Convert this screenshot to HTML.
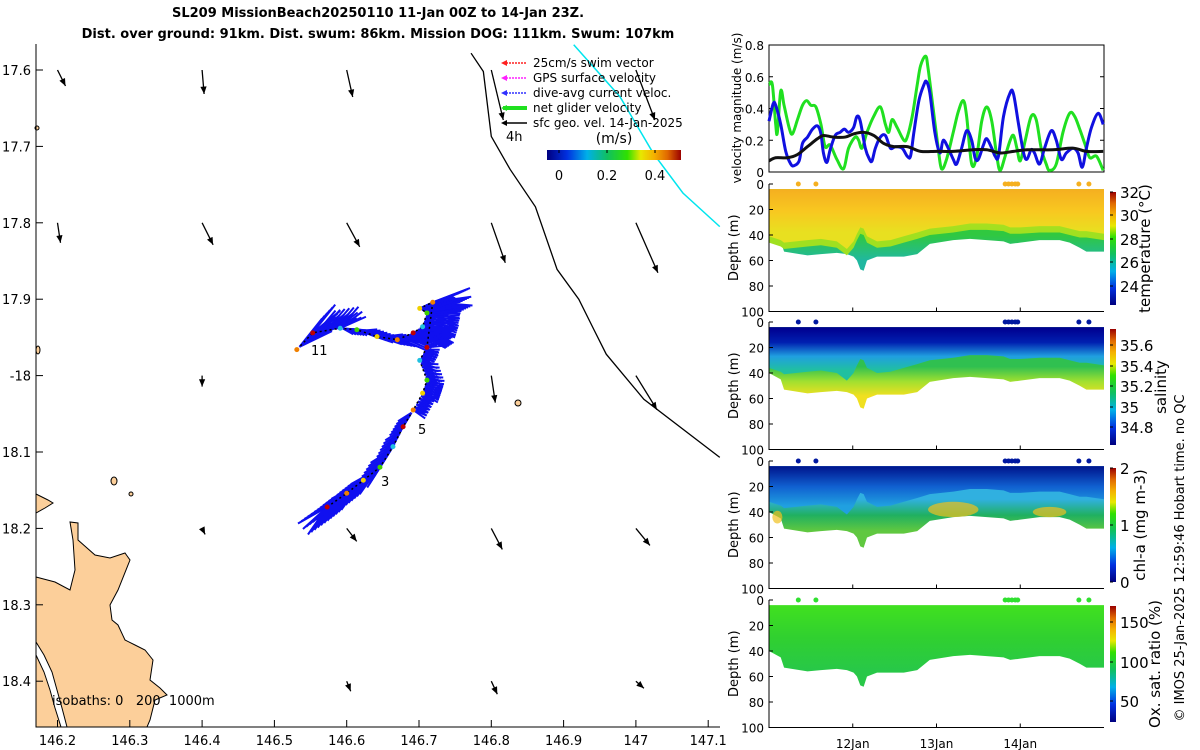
<!DOCTYPE html>
<html><head><meta charset="utf-8"><style>
html,body{margin:0;padding:0;background:#fff;}
svg{display:block;font-family:"DejaVu Sans","Liberation Sans",sans-serif;}
</style></head><body>
<svg id="fig" width="1200" height="750" viewBox="0 0 1200 750">
<defs>
<linearGradient id="jetH" x1="0" y1="0" x2="1" y2="0">
<stop offset="0" stop-color="#00007f"/><stop offset="0.15" stop-color="#0030e0"/><stop offset="0.3" stop-color="#00b0e8"/><stop offset="0.45" stop-color="#10c060"/><stop offset="0.6" stop-color="#30e000"/><stop offset="0.7" stop-color="#e8e800"/><stop offset="0.8" stop-color="#f5b000"/><stop offset="0.9" stop-color="#e06800"/><stop offset="1" stop-color="#9a0000"/></linearGradient>
<linearGradient id="jetV" x1="0" y1="1" x2="0" y2="0">
<stop offset="0" stop-color="#00007f"/><stop offset="0.15" stop-color="#0030e0"/><stop offset="0.3" stop-color="#00b0e8"/><stop offset="0.45" stop-color="#10c060"/><stop offset="0.6" stop-color="#30e000"/><stop offset="0.7" stop-color="#e8e800"/><stop offset="0.8" stop-color="#f5b000"/><stop offset="0.9" stop-color="#e06800"/><stop offset="1" stop-color="#9a0000"/></linearGradient>
</defs>
<g font-weight="bold" font-size="13" text-anchor="middle">
<text x="378" y="17">SL209 MissionBeach20250110 11-Jan 00Z to 14-Jan 23Z.</text>
<text x="378" y="38">Dist. over ground: 91km. Dist. swum: 86km. Mission DOG: 111km. Swum: 107km</text>
</g>
<g id="map"></g>
<g id="vel"></g>
<g id="depth"></g>
<text transform="translate(1184,558) rotate(-90)" text-anchor="middle" font-size="13">© IMOS 25-Jan-2025 12:59:46 Hobart time. no QC</text>
</svg>
<script>
// ---------- data ----------
const lonTicks=[146.2,146.3,146.4,146.5,146.6,146.7,146.8,146.9,147,147.1];
const lonLabels=["146.2","146.3","146.4","146.5","146.6","146.7","146.8","146.9","147","147.1"];
const latTicks=[17.6,17.7,17.8,17.9,18.0,18.1,18.2,18.3,18.4];
const latLabels=["17.6","17.7","17.8","17.9","-18","18.1","18.2","18.3","18.4"];
const arrowLon=[146.2,146.4,146.6,146.8,147.0, 146.2,146.4,146.6,146.8,147.0, 146.4,146.8,147.0, 146.4,146.6,146.8,147.0, 146.6,146.8,147.0];
const arrowLat=[17.6,17.6,17.6,17.6,17.6, 17.8,17.8,17.8,17.8,17.8, 18.0,18.0,18.0, 18.2,18.2,18.2,18.2, 18.4,18.4,18.4];
const arrowU=[0.08,0.02,0.06,0.12,0.19, 0.03,0.11,0.13,0.14,0.22, 0.0,0.04,0.21, 0.03,0.10,0.11,0.14, 0.04,0.06,0.08];
const arrowV=[0.16,0.24,0.27,0.50,0.50, 0.20,0.22,0.24,0.40,0.50, 0.11,0.27,0.34, 0.06,0.13,0.21,0.17, 0.10,0.13,0.07];
const trackLon=[146.573,146.600,146.623,146.646,146.664,146.678,146.692,146.705,146.711,146.701,146.711,146.719,146.701,146.711,146.705,146.692,146.670,146.642,146.614,146.591,146.553,146.531];
const trackLat=[18.172,18.154,18.137,18.120,18.093,18.067,18.045,18.023,18.006,17.980,17.963,17.904,17.912,17.918,17.936,17.944,17.953,17.949,17.940,17.938,17.944,17.966];
const swimU=[-0.22,-0.22,-0.2,-0.15,-0.12,-0.1,0.12,0.15,0.15,0.12,0.15,0.35,0.3,0.3,0.3,0.25,0.2,0.15,0.1,0.2,0.25,0.25];
const swimV=[0.2,0.2,0.18,0.15,0.12,0.1,0.05,0.05,0.04,0.03,-0.05,-0.05,-0.05,0.05,0.08,0.05,0.02,0.02,0.03,-0.15,-0.2,-0.2];
const coastLon=[146.772,146.789,146.800,146.826,146.861,146.891,146.921,146.942,146.959,147.011,147.116];
const coastLat=[17.578,17.602,17.687,17.730,17.779,17.861,17.900,17.940,17.972,18.031,18.107];
const cyanLon=[146.914,146.978,147.024,147.065,147.116];
const cyanLat=[17.567,17.635,17.709,17.761,17.805];
const velT_green=[0,.04,.08,.10,.14,.18,.24,.28,.34,.40,.45,.50,.56,.62,.67,.73,.81,.89,.95,1.03,1.07,1.11,1.17,1.25,1.33,1.39,1.43,1.47,1.53,1.61,1.65,1.71,1.77,1.81,1.87,1.90,1.96,2.02,2.06,2.12,2.20,2.26,2.32,2.36,2.42,2.48,2.54,2.60,2.66,2.72,2.76,2.82,2.88,2.92,2.96,3.00,3.06,3.13,3.19,3.25,3.31,3.35,3.43,3.51,3.59,3.65,3.71,3.77,3.83,3.91,3.99];
const velV_green=[.55,.55,.3,.25,.51,.42,.28,.24,.33,.42,.45,.42,.41,.3,.16,.17,.08,.02,.15,.22,.2,.15,.25,.35,.41,.3,.25,.33,.28,.2,.22,.35,.55,.67,.73,.65,.4,.15,.02,.08,.25,.38,.45,.35,.05,.1,.32,.41,.32,.1,.01,.1,.2,.23,.15,.07,.2,.35,.33,.15,.05,.01,.05,.25,.37,.35,.27,.18,.09,.1,.01];
const velT_blue=[0,.05,.08,.14,.20,.26,.30,.36,.40,.46,.52,.58,.62,.65,.69,.73,.79,.85,.90,.95,1.01,1.05,1.09,1.15,1.20,1.23,1.27,1.33,1.39,1.45,1.51,1.59,1.65,1.69,1.73,1.79,1.85,1.88,1.92,1.98,2.04,2.08,2.14,2.20,2.24,2.30,2.36,2.42,2.46,2.50,2.56,2.60,2.66,2.70,2.74,2.80,2.88,2.92,2.98,3.04,3.08,3.13,3.17,3.23,3.29,3.37,3.43,3.49,3.55,3.63,3.69,3.74,3.79,3.85,3.93,3.99];
const velV_blue=[.32,.43,.42,.3,.13,.05,.04,.07,.18,.22,.27,.29,.24,.12,.06,.14,.23,.25,.27,.25,.28,.35,.32,.15,.08,.07,.15,.22,.23,.15,.16,.15,.1,.1,.25,.45,.55,.57,.5,.25,.12,.2,.15,.08,.05,.15,.26,.2,.09,.08,.17,.21,.15,.1,.1,.35,.5,.49,.3,.12,.08,.14,.12,.05,.15,.26,.2,.08,.12,.15,.12,.03,.15,.28,.37,.3];
const velT_black=[0,.08,.22,.34,.46,.58,.65,.77,.91,1.01,1.13,1.25,1.37,1.49,1.65,1.81,2.00,2.20,2.44,2.60,2.76,2.92,3.08,3.39,3.63,3.79,3.99];
const velV_black=[.07,.09,.09,.11,.16,.21,.23,.22,.22,.24,.25,.23,.18,.16,.16,.13,.13,.13,.14,.14,.12,.13,.14,.14,.15,.13,.13];
const velTicks=[0,0.2,0.4,0.6,0.8];
const velTickLabels=["0","0.2","0.4","0.6","0.8"];
const colT=[0,.14,.18,.46,.62,.81,.93,1.01,1.05,1.09,1.13,1.17,1.29,1.45,1.61,1.77,1.92,2.20,2.40,2.60,2.80,2.88,3.00,3.23,3.47,3.59,3.71,3.79,4.0];
const bottomDepth=[40,45,53,56,55,54,55,57,60,67,68,60,57,57,57,55,47,44,43,44,45,47,46,44,44,46,50,53,53];
const mixedDepth=[40,43,45,43,42,44,50,44,38,33,34,40,44,43,40,37,34,32,30,30,31,33,33,32,32,34,36,36,38];
const surfT=[0.35,0.56,2.82,2.86,2.90,2.94,2.97,3.70,3.82];
const depthTicks=[0,20,40,60,80,100];
const dayTicks=[1,2,3];
const dayLabels=["12Jan","13Jan","14Jan"];
// ---------- helpers ----------
const NS="http://www.w3.org/2000/svg";
function mk(parent,tag,attrs,text){const e=document.createElementNS(NS,tag);for(const k in attrs)e.setAttribute(k,attrs[k]);if(text!==undefined)e.textContent=text;parent.appendChild(e);return e;}
function smooth(pts){let d="M"+pts[0][0]+","+pts[0][1];for(let i=0;i<pts.length-1;i++){const p0=pts[i-1]||pts[i],p1=pts[i],p2=pts[i+1],p3=pts[i+2]||p2;
 d+=` C${p1[0]+(p2[0]-p0[0])/6},${p1[1]+(p2[1]-p0[1])/6} ${p2[0]-(p3[0]-p1[0])/6},${p2[1]-(p3[1]-p1[1])/6} ${p2[0]},${p2[1]}`;}return d;}
const mx=lon=>57.5+(lon-146.2)*723, my=lat=>70+(lat-17.6)*764;
// ---------- map ----------
const map=document.getElementById('map');
let land=mk(map,'path',{d:"M36,577 L55,582 L70,590 L75,570 L73,540 L70,522 L78,523 L78,540 L95,555 L110,558 L125,553 L130,560 L118,590 L110,605 L112,620 L118,625 L125,640 L135,645 L145,650 L153,660 L150,680 L160,688 L167,695 L155,700 L150,720 L147,727 L36,727 Z",fill:"#fccf9a",stroke:"#000","stroke-width":1});

let ch=mk(map,'path',{d:"M36,642 L44,655 L52,672 L57,690 L62,708 L67,727 L61,727 L55,708 L50,690 L44,672 L36,655 Z",fill:"#fff",stroke:"#000","stroke-width":1});

let l2=mk(map,'path',{d:"M36,494 L48,500 L53,503 L45,508 L36,513 Z",fill:"#fccf9a",stroke:"#000","stroke-width":1});

[[114,481,3,4],[131,494,2,2],[518,403,3,3],[37,128,2,2],[38,350,2,4]].forEach(p=>{const e=mk(map,'ellipse',{cx:p[0],cy:p[1],rx:p[2],ry:p[3],fill:"#fccf9a",stroke:"#000"});});
let cl=mk(map,'polyline',{points:coastLon.map((v,i)=>mx(v)+","+my(coastLat[i])).join(" "),fill:"none",stroke:"#000","stroke-width":1.3});

let cy=mk(map,'polyline',{points:cyanLon.map((v,i)=>mx(v)+","+my(cyanLat[i])).join(" "),fill:"none",stroke:"#00e5ee","stroke-width":1.5});

for(let i=0;i<trackLon.length-1;i++){
 for(let k=0;k<6;k++){
  const f=k/6;const x=mx(trackLon[i]+(trackLon[i+1]-trackLon[i])*f), y=my(trackLat[i]+(trackLat[i+1]-trackLat[i])*f);
  for(let j=-1;j<=1;j++){
   const ln=mk(map,'line',{x1:x,y1:y,x2:x+swimU[i]*110+j*swimV[i]*25,y2:y+swimV[i]*110-j*swimU[i]*25,stroke:"#1010f0","stroke-width":2});
   
  }
 }
}
const tcols=["#c00000","#f08000","#f0d000","#40d000","#20c0e0"];
let tr=mk(map,'polyline',{points:trackLon.map((v,i)=>mx(v)+","+my(trackLat[i])).join(" "),fill:"none",stroke:"#000","stroke-width":1.5,"stroke-dasharray":"2,3"});

trackLon.forEach((v,i)=>{const d=mk(map,'circle',{cx:mx(v),cy:my(trackLat[i]),r:2.5,fill:tcols[i%5]});});
[["11",311,355],["5",418,434],["3",381,486]].forEach(t=>{const e=mk(map,'text',{x:t[1],y:t[2],"font-size":13},t[0]);});
arrowLon.forEach((v,i)=>{
 const x=mx(v),y=my(arrowLat[i]),x2=x+arrowU[i]*100,y2=y+arrowV[i]*100;
 const g=mk(map,'g',{});
 
 mk(g,'line',{x1:x,y1:y,x2:x2,y2:y2,stroke:"#000","stroke-width":1.3});
 const a=Math.atan2(y2-y,x2-x),L=8;
 mk(g,'path',{d:`M${x2},${y2} L${x2-L*Math.cos(a-0.4)},${y2-L*Math.sin(a-0.4)} L${x2-L*Math.cos(a+0.4)},${y2-L*Math.sin(a+0.4)} Z`,fill:"#000"});
});
let ax=mk(map,'path',{d:"M36,44 L36,727 L720,727",fill:"none",stroke:"#000","stroke-width":1});

lonTicks.forEach((v,i)=>{const x=mx(v);mk(map,'line',{x1:x,y1:727,x2:x,y2:720,stroke:"#000"});const t=mk(map,'text',{x:x,y:745,"text-anchor":"middle","font-size":13},lonLabels[i]);});
latTicks.forEach((v,i)=>{const y=my(v);mk(map,'line',{x1:36,y1:y,x2:43,y2:y,stroke:"#000"});const t=mk(map,'text',{x:31,y:y+5,"text-anchor":"end","font-size":13},latLabels[i]);});
let iso=mk(map,'text',{x:52,y:705,"font-size":13,style:"white-space:pre"},"isobaths: 0   200  1000m");
let h4=mk(map,'text',{x:506,y:141,"font-size":13},"4h");
const legTxt=["25cm/s swim vector","GPS surface velocity","dive-avg current veloc.","net glider velocity","sfc geo. vel. 14-Jan-2025"];
const legCol=["#ff2020","#ff20ff","#3030ff","#20e020","#000"];
legTxt.forEach((s,i)=>{const y=63+i*15;const g=mk(map,'g',{});
 mk(g,'line',{x1:503,y1:y,x2:527,y2:y,stroke:legCol[i],"stroke-width":i==3?4:1.5,"stroke-dasharray":i<3?"2,1":""});
 mk(g,'path',{d:`M501,${y} L507,${y-3} L507,${y+3} Z`,fill:legCol[i]});
 mk(g,'text',{x:533,y:y+4,"font-size":12},s);});
let ms=mk(map,'text',{x:614,y:143,"text-anchor":"middle","font-size":14},"(m/s)");
let cb=mk(map,'rect',{x:547,y:150,width:134,height:10,fill:"url(#jetH)"});
[["0",559],["0.2",607],["0.4",655]].forEach(t=>{mk(map,'line',{x1:t[1],y1:150,x2:t[1],y2:153,stroke:"#000"});const e=mk(map,'text',{x:t[1],y:180,"text-anchor":"middle","font-size":13},t[0]);});
// ---------- velocity panel ----------
const vel=document.getElementById('vel');
const X0=769,X1=1104,tx=d=>X0+d*(X1-X0)/4;
const vy=v=>172-v*(172-45)/0.8;
mk(vel,'rect',{x:X0,y:45,width:X1-X0,height:127,fill:"none",stroke:"#000"});
velTicks.forEach((v,i)=>{mk(vel,'line',{x1:X0,y1:vy(v),x2:X0+4,y2:vy(v),stroke:"#000"});mk(vel,'line',{x1:X1,y1:vy(v),x2:X1-4,y2:vy(v),stroke:"#000"});const t=mk(vel,'text',{x:764,y:vy(v)+5,"text-anchor":"end","font-size":12},velTickLabels[i]);});
let vt=mk(vel,'text',{transform:"translate(741,108) rotate(-90)","text-anchor":"middle","font-size":12},"velocity magnitude (m/s)");
[[velT_green,velV_green,"#20e020","net-glider-speed-line"],[velT_blue,velV_blue,"#1010e0","current-speed-line"],[velT_black,velV_black,"#111","geo-speed-line"]].forEach(s=>{
 const p=mk(vel,'path',{d:smooth(s[0].map((t,i)=>[tx(t),Math.min(171,vy(s[1][i]))])),fill:"none",stroke:s[2],"stroke-width":3,"stroke-linejoin":"round"});
 });
// ---------- depth panels ----------
const dep=document.getElementById('depth');
const panels=[
 {top:184,name:"temperature-panel",label:"temperature (°C)",lx:1150,cbTop:192,cbBot:305,ticks:[["32",192],["30",215],["28",239],["26",262],["24",286]],dot:"#f5b020",
  base:[[40,"#30c840"],[60,"#20b8a0"]],layers:[{off:6,stops:[[5,"#b8e020"],[40,"#a0e020"]]},{off:1,stops:[[5,"#f5b020"],[25,"#f8c820"],[38,"#e8e020"]]}]},
 {top:322,name:"salinity-panel",label:"salinity",lx:1166,cbTop:329,cbBot:445,ticks:[["35.6",345],["35.4",366],["35.2",386],["35",407],["34.8",427]],dot:"#0018a0",
  base:[[35,"#30c050"],[50,"#a0e030"],[58,"#f0e020"]],layers:[{off:-4,stops:[[5,"#000090"],[18,"#0020b0"],[28,"#20a0e0"],[38,"#20c0a0"]]}]},
 {top:461,name:"chlorophyll-panel",label:"chl-a (mg m-3)",lx:1145,cbTop:468,cbBot:582,ticks:[["2",468],["1",525],["0",582]],dot:"#0018a0",
  base:[[30,"#30b0e0"],[45,"#20b060"],[55,"#60c840"]],layers:[{off:-8,stops:[[5,"#001890"],[25,"#1060d0"],[35,"#20a0e0"]]}]},
 {top:600,name:"oxygen-panel",label:"Ox. sat. ratio (%)",lx:1160,cbTop:606,cbBot:722,ticks:[["150",622],["100",662],["50",701]],dot:"#30e030",
  base:[[5,"#40e020"],[40,"#30d030"],[55,"#28c848"]],layers:[]}
];
panels.forEach((P,pi)=>{
 const g=mk(dep,'g',{});
 const dy=d=>P.top+d*1.275;
 const mkGrad=(stops,id)=>{const lg=mk(g,'linearGradient',{id:id,gradientUnits:"userSpaceOnUse",x1:0,y1:dy(stops[0][0]),x2:0,y2:dy(stops[stops.length-1][0])});stops.forEach((s,k)=>mk(lg,'stop',{offset:stops.length>1?k/(stops.length-1):0,"stop-color":s[1]}));return "url(#"+id+")";};
 const area=(depthArr,off)=>{let d="M"+tx(colT[0])+","+dy(4);colT.forEach((t,i)=>{d+=" L"+tx(t)+","+dy(depthArr[i]+off);});d+=" L"+tx(colT[colT.length-1])+","+dy(4)+" Z";return d;};
 const b=mk(g,'path',{d:area(bottomDepth,0),fill:mkGrad(P.base,"gb"+pi)});
 
 P.layers.forEach((L,li)=>{const e=mk(g,'path',{d:area(mixedDepth,L.off),fill:mkGrad(L.stops,"gl"+pi+"_"+li)});});
 if(pi==2){[[2.2,38,0.3,6],[3.35,40,0.2,4],[0.1,44,0.06,5]].forEach(c=>{const e=mk(g,'ellipse',{cx:tx(c[0]),cy:dy(c[1]),rx:c[2]*84,ry:c[3]*1.275,fill:"#f0c020",opacity:0.7});});}
 surfT.forEach(t=>{const e=mk(g,'circle',{cx:tx(t),cy:P.top,r:2.5,fill:P.dot});});
 mk(g,'path',{d:`M${X0},${P.top} L${X0},${dy(100)} L${X1},${dy(100)}`,fill:"none",stroke:"#000"});
 depthTicks.forEach(v=>{mk(g,'line',{x1:X0,y1:dy(v),x2:X0+4,y2:dy(v),stroke:"#000"});const t=mk(g,'text',{x:764,y:dy(v)+5,"text-anchor":"end","font-size":12},String(v));});
 dayTicks.forEach((d,i)=>{mk(g,'line',{x1:tx(d),y1:dy(100),x2:tx(d),y2:dy(100)-4,stroke:"#000"});if(pi==3){const t=mk(g,'text',{x:tx(d),y:748,"text-anchor":"middle","font-size":12},dayLabels[i]);}});
 const yt=mk(g,'text',{transform:`translate(738,${dy(50)}) rotate(-90)`,"text-anchor":"middle","font-size":13},"Depth (m)");
 const cbr=mk(g,'rect',{x:1110,y:P.cbTop,width:6,height:P.cbBot-P.cbTop,fill:"url(#jetV)"});
 P.ticks.forEach(t=>{mk(g,'line',{x1:1110,y1:t[1],x2:1113,y2:t[1],stroke:"#000"});const e=mk(g,'text',{x:1120,y:t[1]+6,"font-size":15},t[0]);});
 const lb=mk(g,'text',{transform:`translate(${P.lx},${(P.cbTop+P.cbBot)/2}) rotate(-90)`,"text-anchor":"middle","font-size":15},P.label);
});
</script>
</body></html>
